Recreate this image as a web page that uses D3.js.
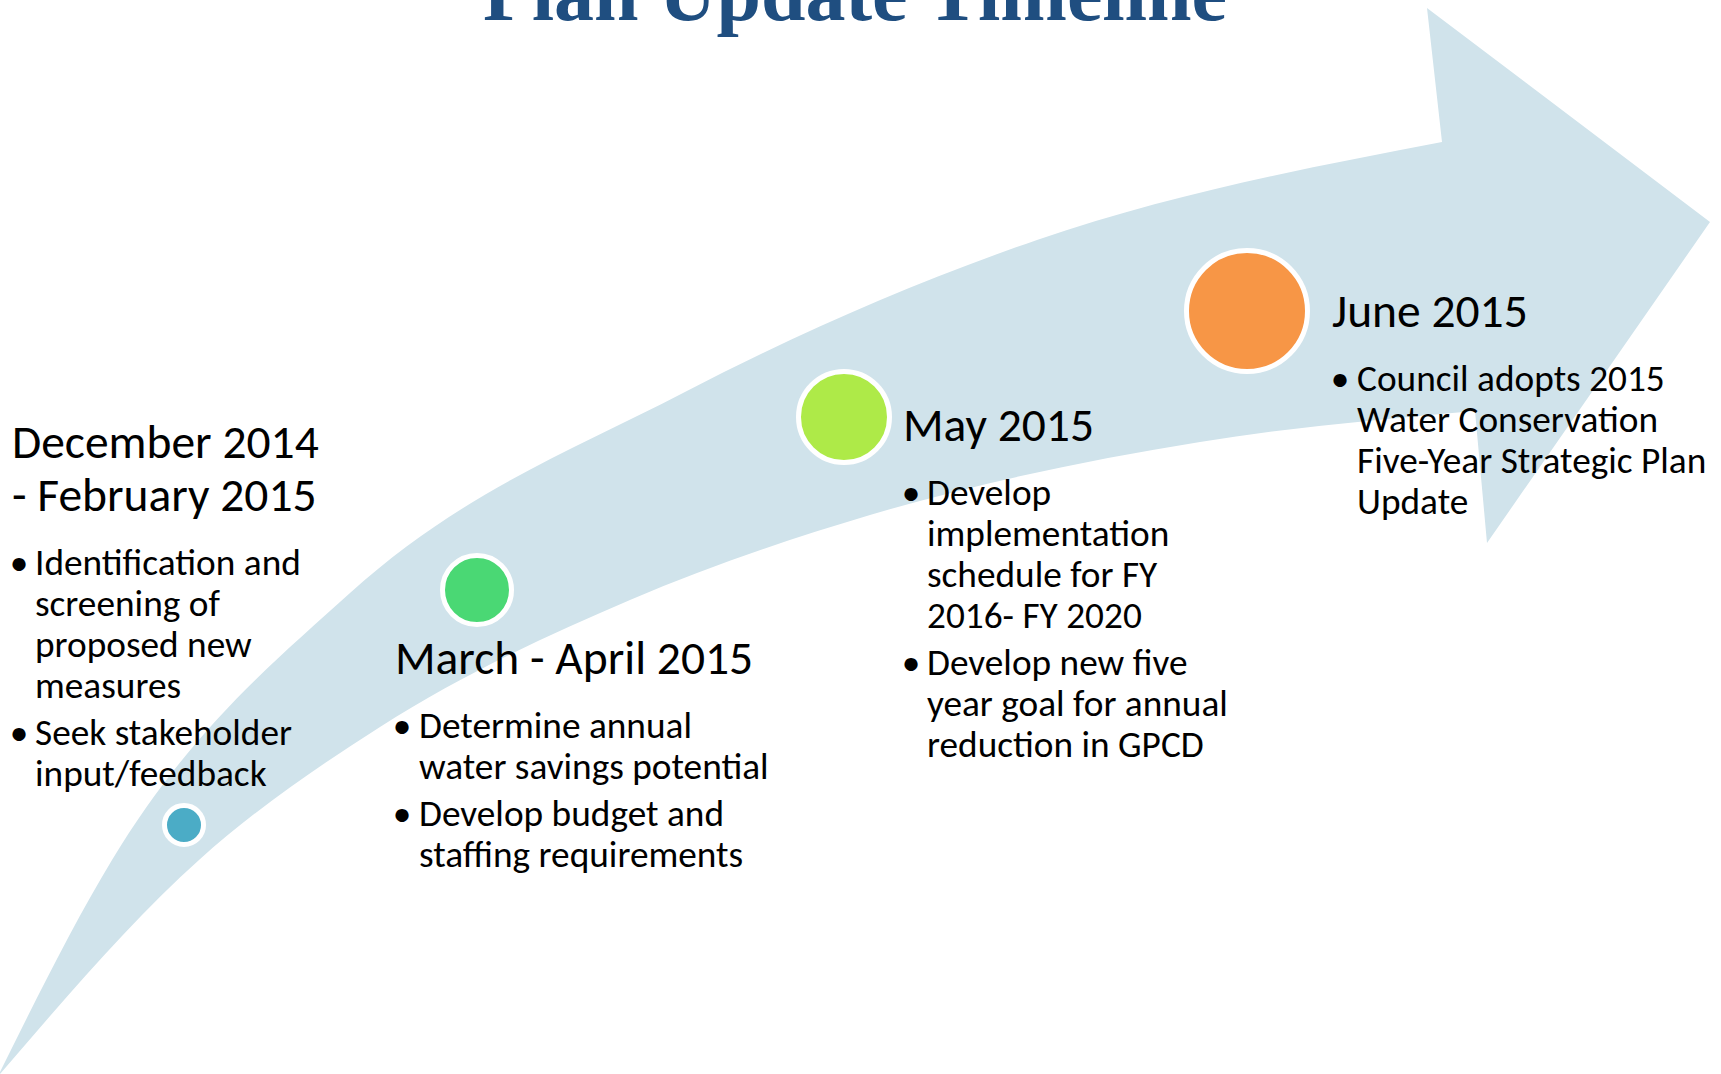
<!DOCTYPE html>
<html>
<head>
<meta charset="utf-8">
<script src="https://cdn.jsdelivr.net/npm/d3@7"></script>
<style>
  html, body { margin: 0; padding: 0; background: #fff; }
  svg { display: block; }
  .head { font-family: Calibri, Carlito, Lato, sans-serif; fill: #000; }
  .item { font-family: Calibri, Carlito, Lato, sans-serif; fill: #000; }
</style>
</head>
<body>
<div id="chart"></div>
<script>
// ---- data ----
var title = "Plan Update Timeline";

var dates = [
  ["December 2014", "- February 2015"],
  ["March - April 2015"],
  ["May 2015"],
  ["June 2015"]
];

var tasks = [
  [["Identification and", "screening of", "proposed new", "measures"],
   ["Seek stakeholder", "input/feedback"]],
  [["Determine annual", "water savings potential"],
   ["Develop budget and", "staffing requirements"]],
  [["Develop", "implementation", "schedule for FY", "2016- FY 2020"],
   ["Develop new five", "year goal for annual", "reduction in GPCD"]],
  [["Council adopts 2015", "Water Conservation", "Five-Year Strategic Plan", "Update"]]
];

// arrow outline, in slide units (1721 x 1074)
var outerEdge = [[0,1072],[112,860],[350,593],[683,393],[1037,240],[1442,142]];
var arrowHead = [[1427,8],[1710,222],[1487,543],[1475,411]];
var innerEdge = [[0,1074],[199,860],[380,727],[630,600],[870,515],[1200,442],[1475,411]];

// ---- layout (slide units) ----
var layout = [
  {cx:184,  cy:825, r:17, hx:12,   hy:458, bx:19,   tx:35},
  {cx:477,  cy:590, r:32, hx:395,  hy:674, bx:402,  tx:419},
  {cx:844,  cy:417, r:43, hx:903,  hy:441, bx:911,  tx:927},
  {cx:1247, cy:311, r:58, hx:1332, hy:327, bx:1340, tx:1357}
];
var colors = ["#4bacc6", "#4ad874", "#aeea48", "#f79646"];

var W = 1721, H = 1074;
var headSize = 47.5, itemSize = 37.3;
var headGap = 53, firstItemGap = 64, lineGap = 41, paraGap = 6;

var x = d3.scaleLinear().domain([0, 1721]).range([0, W]);
var y = d3.scaleLinear().domain([0, 1074]).range([0, H]);

var svg = d3.select("#chart").append("svg")
    .attr("width", W)
    .attr("height", H);

svg.append("rect").attr("width", W).attr("height", H).attr("fill", "#fff");

//************************************************************
// the big curved arrow
//************************************************************
var edge = d3.line()
    .x(function(d){ return x(d[0]); })
    .y(function(d){ return y(d[1]); })
    .curve(d3.curveMonotoneX);

var pathStr = edge(outerEdge);
arrowHead.forEach(function(p){ pathStr += "L" + x(p[0]) + "," + y(p[1]); });
// inner edge goes back right-to-left: draw it forward, then reverse via a separate subpath trick
var innerRev = innerEdge.slice().reverse();
var edgeRev = d3.line()
    .x(function(d){ return x(d[0]); })
    .y(function(d){ return y(d[1]); })
    .curve(d3.curveMonotoneX);
pathStr += edgeRev(innerRev).replace(/^M/, "L") + "Z";

svg.append("path")
    .attr("d", pathStr)
    .attr("fill", "#d0e3eb");

//************************************************************
// title (cut by the top edge, like the slide)
//************************************************************
svg.append("text")
    .attr("x", x(483))
    .attr("y", y(20))
    .attr("font-family", "'Liberation Serif', 'Times New Roman', serif")
    .attr("font-weight", "bold")
    .attr("font-size", 80)
    .attr("textLength", 744)
    .attr("lengthAdjust", "spacingAndGlyphs")
    .attr("fill", "#1f4e80")
    .text(title);

//************************************************************
// milestones
//************************************************************
var ms = svg.selectAll(".milestone")
    .data(layout)
    .enter().append("g")
    .attr("class", "milestone");

ms.append("circle")
    .attr("cx", function(d){ return x(d.cx); })
    .attr("cy", function(d){ return y(d.cy); })
    .attr("r", function(d){ return d.r + 2.5; })
    .attr("fill", function(d, i){ return colors[i]; })
    .attr("stroke", "#fff")
    .attr("stroke-width", 5);

ms.each(function(d, i){
  var g = d3.select(this);
  var yy = d.hy;

  dates[i].forEach(function(line, k){
    if (k > 0) yy += headGap;
    g.append("text")
      .attr("class", "head")
      .attr("x", x(d.hx))
      .attr("y", y(yy))
      .attr("font-size", headSize)
      .text(line);
  });

  yy += firstItemGap;
  tasks[i].forEach(function(para, p){
    if (p > 0) yy += lineGap + paraGap;
    g.append("text")
      .attr("class", "item")
      .attr("x", x(d.bx))
      .attr("y", y(yy))
      .attr("text-anchor", "middle")
      .attr("font-size", itemSize)
      .text("\u2022");
    para.forEach(function(line, k){
      if (k > 0) yy += lineGap;
      g.append("text")
        .attr("class", "item")
        .attr("x", x(d.tx))
        .attr("y", y(yy))
        .attr("font-size", itemSize)
        .text(line);
    });
  });
});
</script>
</body>
</html>
